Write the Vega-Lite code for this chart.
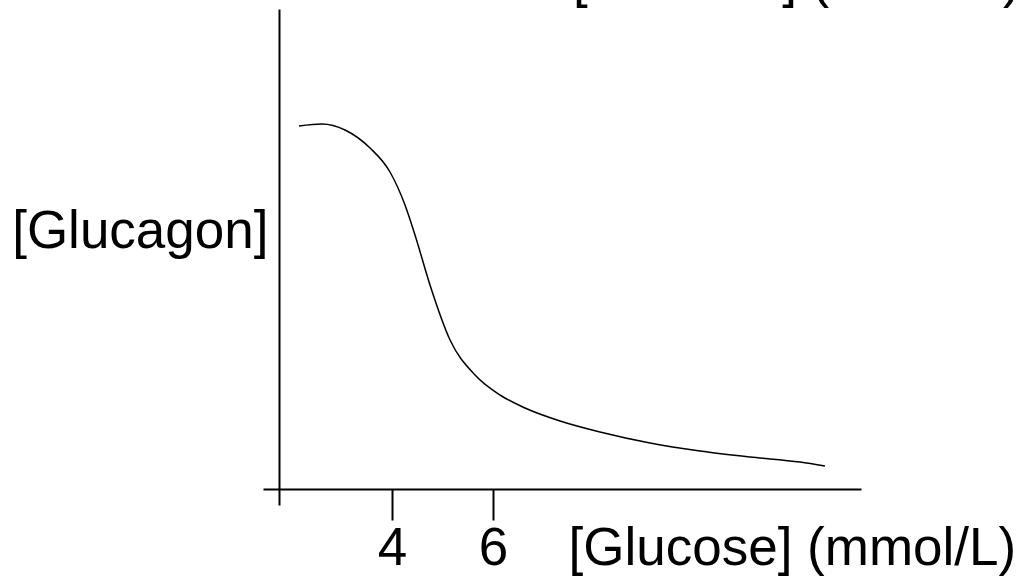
{
  "$schema": "https://vega.github.io/schema/vega-lite/v6.json",
  "autosize": {"type": "none"},
  "width": 598,
  "height": 496,
  "padding": {"left": 263, "top": 9, "right": 162, "bottom": 72},
  "background": "white",
  "config": {"view": {"stroke": null}, "font": "Liberation Sans"},
  "layer": [
    {
      "data": {
        "values": [
          {"glucose": 2.159, "glucagon": 90.75},
          {"glucose": 2.615, "glucagon": 91.25},
          {"glucose": 3.071, "glucagon": 89.75},
          {"glucose": 3.566, "glucagon": 85.25},
          {"glucose": 3.962, "glucagon": 79.25},
          {"glucose": 4.259, "glucagon": 71.0},
          {"glucose": 4.457, "glucagon": 63.5},
          {"glucose": 4.754, "glucagon": 51.0},
          {"glucose": 5.151, "glucagon": 37.25},
          {"glucose": 5.646, "glucagon": 28.5},
          {"glucose": 6.141, "glucagon": 23.5},
          {"glucose": 6.636, "glucagon": 20.25},
          {"glucose": 7.33, "glucagon": 17.0},
          {"glucose": 8.122, "glucagon": 14.25},
          {"glucose": 9.113, "glucagon": 11.5},
          {"glucose": 10.103, "glucagon": 9.5},
          {"glucose": 11.094, "glucagon": 8.0},
          {"glucose": 12.084, "glucagon": 6.75},
          {"glucose": 12.579, "glucagon": 5.75}
        ]
      },
      "mark": {"type": "line", "interpolate": "monotone", "color": "black", "strokeWidth": 1.5},
      "encoding": {
        "x": {
          "field": "glucose",
          "type": "quantitative",
          "scale": {"domain": [1.446, 13.292], "nice": false, "zero": false},
          "axis": {
            "values": [4, 6],
            "offset": -16,
            "grid": false,
            "domainColor": "black",
            "domainWidth": 2,
            "tickColor": "black",
            "tickWidth": 2,
            "tickSize": 31,
            "labelFontSize": 53,
            "labelFont": "Liberation Sans",
            "labelColor": "black",
            "labelBaseline": "alphabetic",
            "labelPadding": 44,
            "labelFlush": false,
            "title": "[Glucose] (mmol/L)",
            "titleFont": "Liberation Sans",
            "titleFontSize": 53,
            "titleFontWeight": "normal",
            "titleColor": "black",
            "titleAlign": "left",
            "titleBaseline": "alphabetic",
            "titleX": 305,
            "titleY": 75
          }
        },
        "y": {
          "field": "glucagon",
          "type": "quantitative",
          "scale": {"domain": [-4, 120], "nice": false, "zero": false},
          "axis": {
            "offset": -16,
            "grid": false,
            "ticks": false,
            "labels": false,
            "domainColor": "black",
            "domainWidth": 2,
            "title": "[Glucagon]",
            "titleFont": "Liberation Sans",
            "titleFontSize": 53,
            "titleFontWeight": "normal",
            "titleColor": "black",
            "titleAngle": 0,
            "titleAlign": "right",
            "titleBaseline": "alphabetic",
            "titleX": -11,
            "titleY": 238
          }
        }
      }
    },
    {
      "data": {"values": [{"glucose": 7.587, "glucagon": 123, "label": "[Glucose] (mmol/L)"}]},
      "mark": {"type": "text", "align": "left", "baseline": "alphabetic", "fontSize": 53, "font": "Liberation Sans", "color": "black", "clip": false},
      "encoding": {
        "x": {"field": "glucose", "type": "quantitative"},
        "y": {"field": "glucagon", "type": "quantitative"},
        "text": {"field": "label"}
      }
    }
  ]
}
